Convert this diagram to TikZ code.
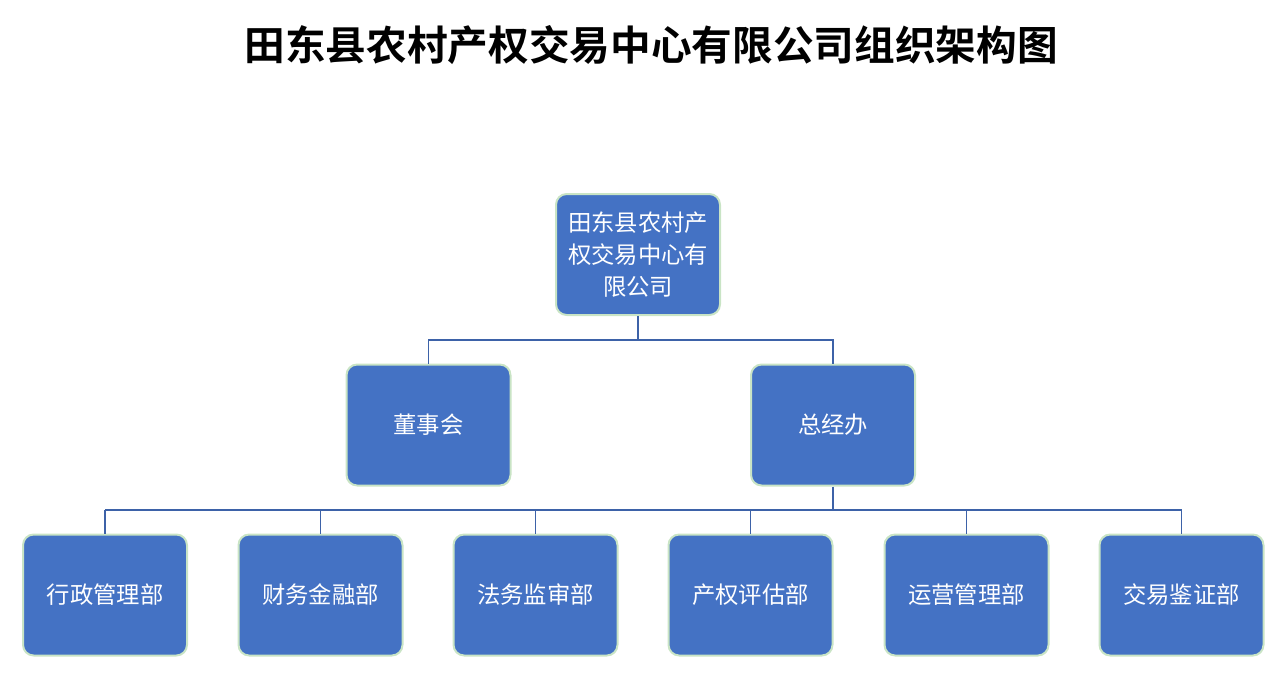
\documentclass[tikz,border=0pt]{standalone}
\usepackage{fontspec}
\newfontfamily\cjk{Noto Sans CJK SC}
\newfontfamily\cjkbold{Noto Sans CJK SC Bold}
\definecolor{boxblue}{HTML}{4472C4}
\definecolor{boxedge}{HTML}{C9E4C5}
\definecolor{linkblue}{HTML}{3D62A8}
\tikzset{
  orgbox/.style={draw=boxedge, line width=1.5pt, fill=boxblue, rounded corners=8pt,
    minimum width=123pt, minimum height=90.75pt, text=white, align=center,
    font=\cjk\fontsize{17.5pt}{24pt}\selectfont, inner sep=0pt},
  link/.style={draw=linkblue, line width=1.4pt}
}
\begin{document}
\begin{tikzpicture}[x=0.75pt,y=-0.75pt]
  \useasboundingbox (0,0) rectangle (1286,683);
  \node[font=\cjkbold\fontsize{30.5pt}{36pt}\selectfont] (title) at (651,45) {田东县农村产权交易中心有限公司组织架构图};
  \node[orgbox] (top) at (638,254.5) {田东县农村产\\权交易中心有\\限公司};
  \node[orgbox] (dsh) at (428.5,425) {董事会};
  \node[orgbox] (zjb) at (833,425) {总经办};
  \node[orgbox] (xz) at (105,595) {行政管理部};
  \node[orgbox] (cw) at (320.5,595) {财务金融部};
  \node[orgbox] (fw) at (535.5,595) {法务监审部};
  \node[orgbox] (cq) at (750.5,595) {产权评估部};
  \node[orgbox] (yy) at (966.5,595) {运营管理部};
  \node[orgbox] (jy) at (1181.5,595) {交易鉴证部};
  \coordinate (j1) at (638,340);
  \coordinate (j2) at (833,510);
  \draw[link] (top.south) -- (j1);
  \draw[link] (dsh.north) -- (dsh.north |- j1) -- (zjb.north |- j1) -- (zjb.north);
  \draw[link] (zjb.south) -- (j2);
  \draw[link] (xz.north |- j2) -- (jy.north |- j2);
  \foreach \n in {xz,cw,fw,cq,yy,jy}
    \draw[link] (\n.north) -- (\n.north |- j2);
\end{tikzpicture}
\end{document}
